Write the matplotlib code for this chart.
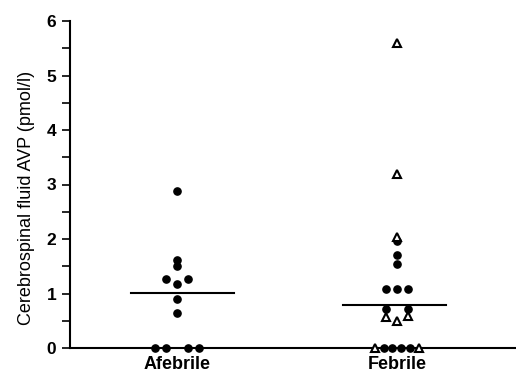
import matplotlib.pyplot as plt

# groups on the x axis
groups = ['Afebrile', 'Febrile']

# Afebrile: filled dots (x offset within group, value)
afeb_dx = [0, 0, 0, -0.05, 0.05, 0, 0, 0, -0.10, -0.05, 0.05, 0.10]
afeb_y = [2.88, 1.61, 1.50, 1.27, 1.27, 1.17, 0.90, 0.64, 0, 0, 0, 0]
afeb_median = 1.01

# Febrile: filled dots
feb_dot_dx = [0, 0, 0, -0.05, 0, 0.05, -0.05, 0.05, -0.06, -0.02, 0.02, 0.06]
feb_dot_y = [1.96, 1.71, 1.54, 1.08, 1.08, 1.08, 0.71, 0.71, 0, 0, 0, 0]
# Febrile: open triangles
feb_tri_dx = [0, 0, 0, -0.05, 0, 0.05, -0.10, 0.10]
feb_tri_y = [5.59, 3.19, 2.03, 0.56, 0.49, 0.58, 0, 0]
feb_median = 0.79

yticks = [0, 1, 2, 3, 4, 5, 6]

fig = plt.figure(figsize=(5.16, 3.75), dpi=100)
ax = fig.add_axes([0.1357, 0.072, 0.8643, 0.872])

ax.plot([0 + d for d in afeb_dx], afeb_y, 'o', color='black', markersize=5.2, clip_on=False, zorder=3)
ax.plot([1 + d for d in feb_dot_dx], feb_dot_y, 'o', color='black', markersize=5.2, clip_on=False, zorder=3)
ax.plot([1 + d for d in feb_tri_dx], feb_tri_y, '^', markerfacecolor='white', markeredgecolor='black',
        markeredgewidth=1.5, markersize=5.5, clip_on=False, zorder=4)

# median lines
ax.plot([-0.21, 0.26], [afeb_median, afeb_median], color='black', linewidth=1.5)
ax.plot([1 - 0.245, 1 + 0.225], [feb_median, feb_median], color='black', linewidth=1.5)

ax.set_xlim(-0.489, 1.543)
ax.set_ylim(0, 6)
ax.set_yticks(yticks)
ax.set_yticks([0.5, 1.5, 2.5, 3.5, 4.5, 5.5], minor=True)
ax.set_yticklabels([str(t) for t in yticks], fontfamily='Liberation Sans', fontweight='bold', fontsize=12.5)
ax.tick_params(axis='y', which='major', length=6, width=1.2, direction='out', pad=4)
ax.tick_params(axis='y', which='minor', length=6, width=1.2, direction='out')

ax.set_xticks([0, 1])
ax.set_xticklabels(groups, fontfamily='Liberation Sans', fontweight='bold', fontsize=13)
ax.tick_params(axis='x', length=0, pad=6)

ax.set_ylabel('Cerebrospinal fluid AVP (pmol/l)', fontfamily='Liberation Sans', fontsize=13)
ax.yaxis.set_label_coords(-0.078, 0.46)

ax.spines['top'].set_visible(False)
ax.spines['right'].set_visible(False)
ax.spines['left'].set_linewidth(1.5)
ax.spines['bottom'].set_linewidth(1.5)

fig.savefig('out.png', dpi=100)
